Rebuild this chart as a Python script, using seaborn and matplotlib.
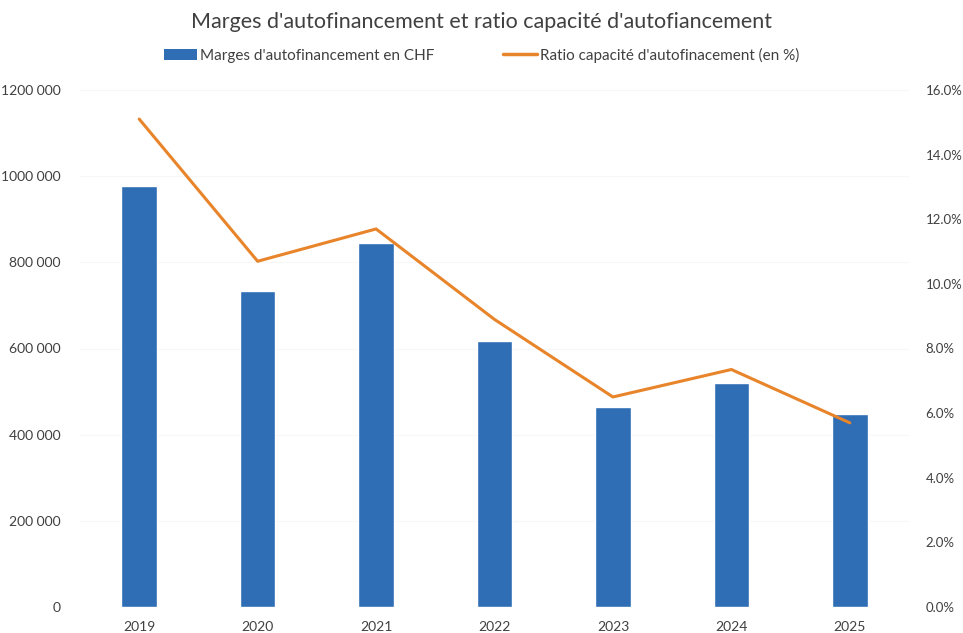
import numpy as np
import pandas as pd
import matplotlib
matplotlib.use("Agg")
import matplotlib.pyplot as plt
import seaborn as sns
from matplotlib.ticker import FuncFormatter, MultipleLocator
from matplotlib.patches import Patch
from matplotlib.lines import Line2D

years = ["2019", "2020", "2021", "2022", "2023", "2024", "2025"]
marges = [977000, 733000, 845000, 617000, 464000, 520000, 448000]
ratio = [15.1, 10.7, 11.7, 8.9, 6.5, 7.35, 5.7]

title = "Marges d'autofinancement et ratio capacité d'autofiancement"
label_bar = "Marges d'autofinancement en CHF"
label_line = "Ratio capacité d'autofinacement (en %)"

sns.set_theme(style="white")
plt.rcParams['font.family'] = ['Lato', 'DejaVu Sans']

bar_color = "#2F6DB5"
line_color = "#E8842A"
text_color = "#404040"


def fmt_left(v, p):
    v = int(round(v))
    if v == 0:
        return "0"
    return f"{v // 1000} {v % 1000:03d}"


fig = plt.figure(figsize=(9.63, 6.33), dpi=100)
ax = fig.add_axes([80/963, 1-607/633, (909-80)/963, (607-90)/633])

df = pd.DataFrame({"year": years, "marges": marges, "ratio": ratio})
sns.barplot(data=df, x="year", y="marges", color=bar_color, width=0.3, ax=ax,
            saturation=1)
ax.set_ylim(0, 1200000)
ax.yaxis.set_major_locator(MultipleLocator(200000))
ax.yaxis.set_major_formatter(FuncFormatter(fmt_left))
ax.set_xlim(-0.5, len(years) - 0.5)
ax.set_xlabel("")
ax.set_ylabel("")
ax.grid(axis="y", color="#F7F7F7", linewidth=0.8)
ax.set_axisbelow(True)
for s in ax.spines.values():
    s.set_visible(False)
ax.tick_params(axis="y", length=0, pad=14, labelsize=10, labelcolor=text_color)
ax.tick_params(axis="x", length=0, pad=10, labelsize=10, labelcolor=text_color)

ax2 = ax.twinx()
sns.lineplot(x=np.arange(len(years)), y=df["ratio"], color=line_color, linewidth=2.2, ax=ax2)
ax2.set_ylim(0, 16)
ax2.yaxis.set_major_locator(MultipleLocator(2))
ax2.yaxis.set_major_formatter(FuncFormatter(lambda v, p: f"{v:.1f}%"))
ax2.set_ylabel("")
ax2.set_xlim(-0.5, len(years) - 0.5)
for s in ax2.spines.values():
    s.set_visible(False)
ax2.tick_params(axis="y", length=0, pad=12, labelsize=9.5, labelcolor=text_color)

fig.text(0.5, 1-22/633, title, ha="center", va="center", fontsize=15.5, color=text_color)

handles = [Patch(facecolor=bar_color, edgecolor="none"),
           Line2D([0], [0], color=line_color, linewidth=2.5)]
fig.legend(handles, [label_bar, label_line], loc="center", bbox_to_anchor=(0.5, 1-55/633),
           ncol=2, frameon=False, fontsize=11, handlelength=2.2, handleheight=0.7,
           handletextpad=0.2, columnspacing=4.5, labelcolor=text_color)

fig.savefig("out.png", dpi=100)
